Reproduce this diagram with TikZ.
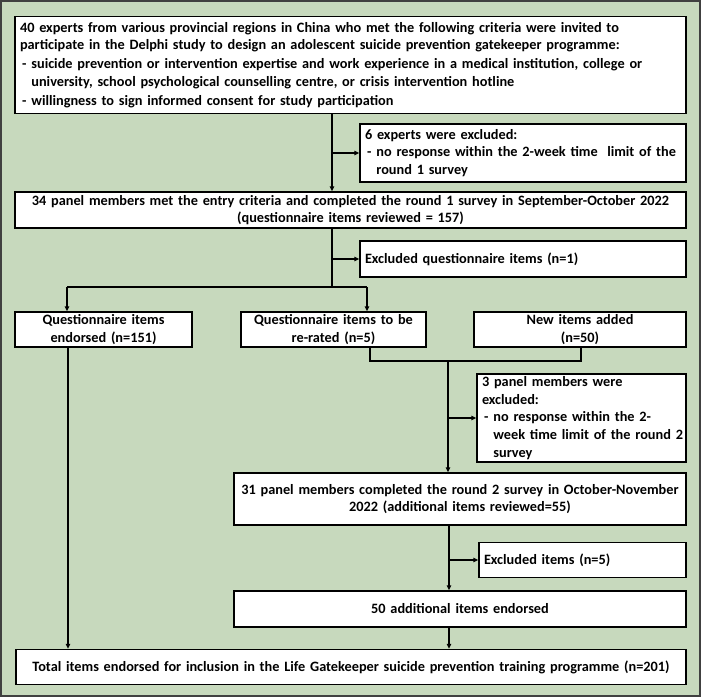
\documentclass[tikz,border=0pt]{standalone}
\usepackage{fontspec}
\setmainfont{Carlito}
\usetikzlibrary{arrows.meta}
\definecolor{sage}{RGB}{199,217,189}
\definecolor{framegray}{RGB}{64,64,64}
\newcommand{\dsh}{\hspace*{2pt}-\hspace*{5pt}}
\newcommand{\ind}{\phantom{\dsh}}

\begin{document}
\begin{tikzpicture}[x=1pt, y=-1pt,
    font=\bfseries\fontsize{14.3}{17.6}\selectfont,
    box/.style={draw=black, line width=1.5pt, fill=white, inner xsep=5pt, inner ysep=0pt},
    lbox/.style={box, align=left},
    cbox/.style={box, align=center},
    link/.style={line width=1.3pt},
    arr/.style={link, -{Triangle[length=5pt, width=4.5pt]}}]
    \useasboundingbox (0,0) rectangle (701,697);
    \fill[sage] (0,0) rectangle (701,697);
    \draw[framegray, line width=2pt] (1,1) rectangle (700,696);

    % Define boxes
    \node[lbox, text width=661pt, minimum height=97pt] at (350.5,65) (top) {40 experts from various provincial regions in China who met the following criteria were invited to\\
        participate in the Delphi study to design an adolescent suicide prevention gatekeeper programme:\\[1.5pt]
        \dsh suicide prevention or intervention expertise and work experience in a medical institution, college or\\
        \ind university, school psychological counselling centre, or crisis intervention hotline\\[1.5pt]
        \dsh willingness to sign informed consent for study participation};
    \node[lbox, text width=316pt, minimum height=58pt] at (523,153) (ex1) {6 experts were excluded:\\
        \dsh\mbox{no response within the 2-week time\ \ limit of the}\\
        \ind round 1 survey};
    \node[cbox, text width=661pt, minimum height=36pt] at (350.5,210) (r1) {34 panel members met the entry criteria and completed the round 1 survey in September-October 2022\\
        (questionnaire items reviewed = 157)};
    \node[lbox, text width=316pt, minimum height=36pt] at (523,259) (ex2) {Excluded questionnaire items (n=1)};
    \node[cbox, text width=167pt, minimum height=35pt] at (103.5,329.5) (endorsed) {Questionnaire items\\endorsed (n=151)};
    \node[cbox, text width=175pt, minimum height=35pt] at (333.5,329.5) (rerate) {Questionnaire items to be\\re-rated (n=5)};
    \node[cbox, text width=202pt, minimum height=35pt] at (580,329.5) (newitems) {New items added\\(n=50)};
    \node[lbox, text width=199pt, minimum height=88pt] at (581.5,418) (ex3) {3 panel members were\\
        excluded:\\
        \dsh\mbox{no response within the 2-}\\
        \ind\mbox{week time limit of the round 2}\\
        \ind survey};
    \node[cbox, text width=442pt, minimum height=52pt] at (460,499) (r2) {31 panel members completed the round 2 survey in October-November\\
        2022 (additional items reviewed=55)};
    \node[lbox, text width=197pt, minimum height=35pt] at (582.5,560) (ex4) {Excluded items (n=5)};
    \node[cbox, text width=442pt, minimum height=36pt] at (460,609) (add) {50 additional items endorsed};
    \node[cbox, text width=660pt, minimum height=35pt] at (351,667) (total) {Total items endorsed for inclusion in the Life Gatekeeper suicide prevention training programme (n=201)};

    % Trunk points
    \coordinate (c1) at (332,0);
    \coordinate (sp) at (332,287);
    \coordinate (spL) at (67,287);
    \coordinate (spR) at (367,287);
    \coordinate (jL) at (370,361);
    \coordinate (jR) at (581,361);
    \coordinate (j2) at (448,361);
    \coordinate (j3) at (449,0);
    \coordinate (lf) at (68,0);

    % Round 1
    \draw[arr] (top.south -| c1) -- (r1.north -| c1);
    \draw[arr] (c1 |- ex1.west) -- (ex1.west);
    \draw[link] (r1.south -| sp) -- (sp);
    \draw[arr] (sp |- ex2.west) -- (ex2.west);
    \draw[link] (spL) -- (spR);
    \draw[arr] (spL) -- (spL |- endorsed.north);
    \draw[arr] (spR) -- (spR |- rerate.north);

    % Round 2
    \draw[link] (rerate.south -| jL) -- (jL) -- (jR) -- (newitems.south -| jR);
    \draw[arr] (j2) -- (r2.north -| j2);
    \draw[arr] (j2 |- ex3.west) -- (ex3.west);
    \draw[arr] (r2.south -| j3) -- (add.north -| j3);
    \draw[arr] (j3 |- ex4.west) -- (ex4.west);
    \draw[arr] (add.south -| j3) -- (total.north -| j3);
    \draw[arr] (endorsed.south -| lf) -- (total.north -| lf);
\end{tikzpicture}
\end{document}
